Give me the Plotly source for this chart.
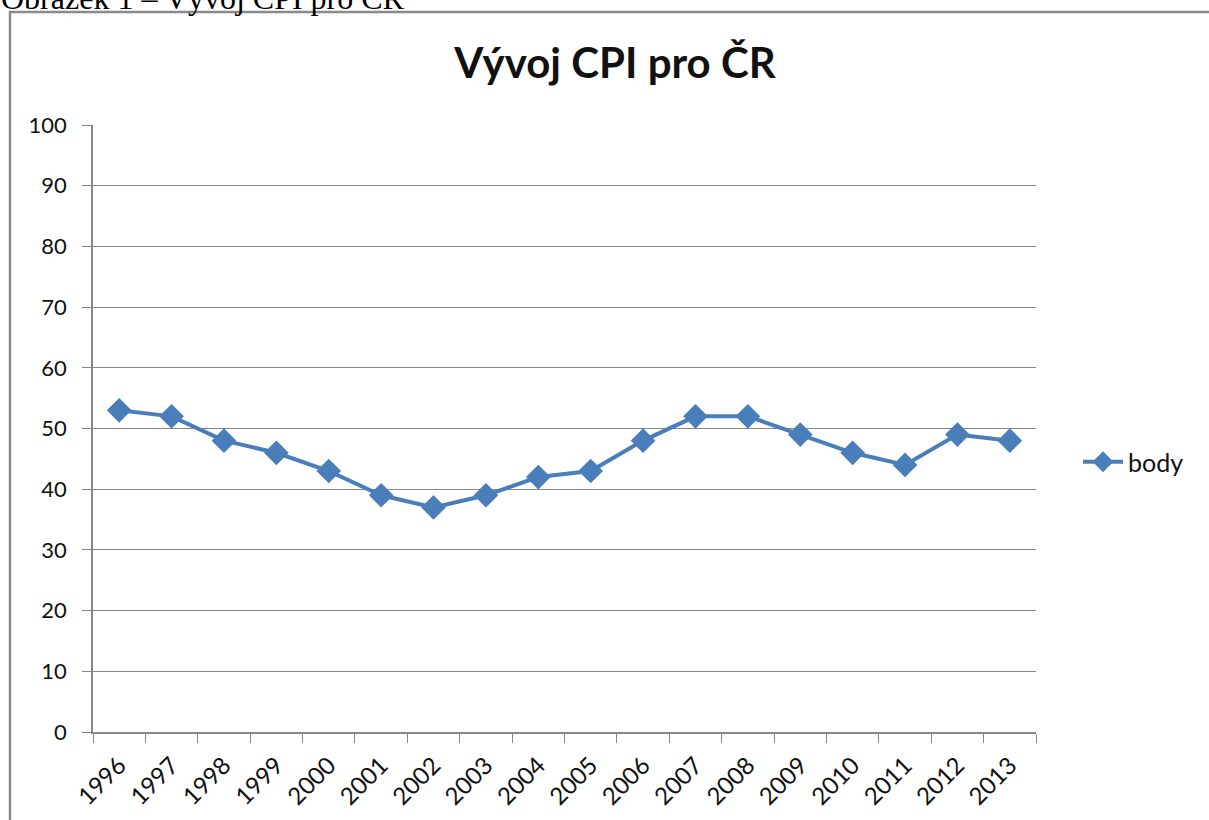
import plotly.graph_objects as go

years = ["1996", "1997", "1998", "1999", "2000", "2001", "2002", "2003", "2004",
         "2005", "2006", "2007", "2008", "2009", "2010", "2011", "2012", "2013"]
body = [53, 52, 48, 46, 43, 39, 37, 39, 42, 43, 48, 52, 52, 49, 46, 44, 49, 48]
y_ticks = [0, 10, 20, 30, 40, 50, 60, 70, 80, 90, 100]

W, H = 1209, 820
L, R, T, B = 93, 1036, 125, 732
pw, ph = R - L, B - T

def px(x):
    return (x - L) / pw

def py(y):
    return (B - y) / ph

grey = "#878787"
blue = "#4A7EBB"
font = "Lato, 'Open Sans', sans-serif"

fig = go.Figure()
fig.add_trace(go.Scatter(
    x=years, y=body, name="body", mode="lines+markers",
    line=dict(color=blue, width=4),
    marker=dict(symbol="diamond", size=19, color=blue),
))

fig.update_layout(
    width=W, height=H,
    paper_bgcolor="white", plot_bgcolor="white",
    margin=dict(l=L, r=W - R, t=T, b=H - B, autoexpand=False),
    font=dict(family=font, size=21, color="#222222"),
    title=dict(text="<b>Vývoj CPI pro ČR</b>", x=615 / W, xanchor="center",
               y=1 - 63 / H, yanchor="middle", yref="container",
               font=dict(family=font, size=42, color="#111111")),
    showlegend=True,
    legend=dict(x=px(1078), xanchor="left", y=py(462), yanchor="middle",
                font=dict(size=25, color="#111111"), bgcolor="rgba(0,0,0,0)",
                itemwidth=40),
    xaxis=dict(type="category", range=[-0.5, len(years) - 0.5],
               tickson="boundaries", ticks="outside", ticklen=9, tickcolor=grey,
               showline=True, linecolor=grey, linewidth=1.5, showgrid=False,
               tickangle=-45, ticklabelstandoff=8,
               tickfont=dict(size=24, color="#111111")),
    yaxis=dict(range=[0, 100], tickvals=y_ticks, ticks="outside", ticklen=9,
               tickcolor=grey, showline=True, linecolor=grey, linewidth=1.5,
               gridcolor=grey, gridwidth=1, zeroline=False, ticklabelstandoff=11,
               tickfont=dict(size=22, color="#111111")),
    shapes=[dict(type="rect", xref="paper", yref="paper",
                 x0=px(10), x1=px(1230), y0=py(840), y1=py(12),
                 line=dict(color="#8a8a8a", width=2.5), fillcolor="rgba(0,0,0,0)",
                 layer="below")],
    annotations=[dict(text="Obrázek 1 – Vývoj CPI pro ČR", xref="paper", yref="paper",
                      x=px(-1), y=py(10), xanchor="left", yanchor="bottom",
                      showarrow=False, yshift=-8,
                      font=dict(family="'Liberation Serif', 'Times New Roman', serif",
                                size=32, color="black"))],
)

fig.write_html("out.html", config={"displayModeBar": False},
               post_script="document.body.style.margin='0';document.body.style.padding='0';")
